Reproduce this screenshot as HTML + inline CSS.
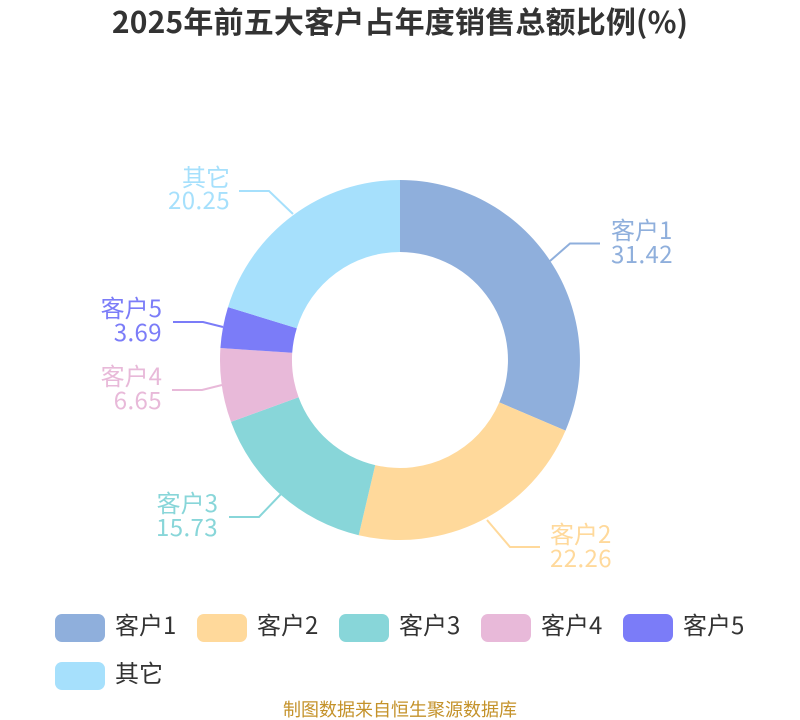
<!DOCTYPE html>
<html><head><meta charset="utf-8"><style>
html,body{margin:0;padding:0;background:#fff}
svg{display:block}
text{font-family:"Noto Sans CJK SC","Liberation Sans",sans-serif}
.n{letter-spacing:.4px}
</style></head><body>
<svg width="800" height="720" viewBox="0 0 800 720" xmlns="http://www.w3.org/2000/svg">
<rect width="800" height="720" fill="#fff"/>
<text x="400" y="33" text-anchor="middle" font-size="30" font-weight="700" fill="#333" style="letter-spacing:.18px">2025年前五大客户占年度销售总额比例(%)</text>
<g>
<path d="M400 180A180 180 0 0 1 565.5 430.65L499.3 402.4A108 108 0 0 0 400 252Z" fill="#8fafdc"/>
<path d="M565.5 430.65A180 180 0 0 1 358.7 535.2L375.2 465.1A108 108 0 0 0 499.3 402.4Z" fill="#ffd99b"/>
<path d="M358.7 535.2A180 180 0 0 1 231 421.9L298.6 397.2A108 108 0 0 0 375.2 465.1Z" fill="#88d6d9"/>
<path d="M231 421.9A180 180 0 0 1 220.4 348L292.2 352.8A108 108 0 0 0 298.6 397.2Z" fill="#e8b9d9"/>
<path d="M220.4 348A180 180 0 0 1 228 307.1L296.8 328.2A108 108 0 0 0 292.2 352.8Z" fill="#7b7cf8"/>
<path d="M228 307.1A180 180 0 0 1 400 180L400 252A108 108 0 0 0 296.8 328.2Z" fill="#a6e0fc"/>
</g>
<g fill="none" stroke-width="2">
<polyline points="550,261 570,243.5 600,243.5" stroke="#8fafdc"/>
<polyline points="487,520 510,547 540,547" stroke="#ffd99b"/>
<polyline points="281,494 259,517 229,517" stroke="#88d6d9"/>
<polyline points="222,385 202,390 172,390" stroke="#e8b9d9"/>
<polyline points="223,327 203,322 173,322" stroke="#7b7cf8"/>
<polyline points="293,214 269,191 239,191" stroke="#a6e0fc"/>
</g>
<g font-size="24">
<g fill="#8fafdc"><text x="611" y="239">客户1</text><text class="n" x="611" y="263">31.42</text></g>
<g fill="#ffd99b"><text x="550" y="543">客户2</text><text class="n" x="550" y="567">22.26</text></g>
<g fill="#88d6d9" text-anchor="end"><text x="218" y="512">客户3</text><text class="n" x="218" y="536">15.73</text></g>
<g fill="#e8b9d9" text-anchor="end"><text x="162" y="385">客户4</text><text class="n" x="162" y="409">6.65</text></g>
<g fill="#7b7cf8" text-anchor="end"><text x="162" y="317">客户5</text><text class="n" x="162" y="341">3.69</text></g>
<g fill="#a6e0fc" text-anchor="end"><text x="230" y="186">其它</text><text class="n" x="230" y="209">20.25</text></g>
</g>
<rect x="55" y="614" width="50" height="28" rx="7" fill="#8fafdc"/>
<rect x="197" y="614" width="50" height="28" rx="7" fill="#ffd99b"/>
<rect x="339" y="614" width="50" height="28" rx="7" fill="#88d6d9"/>
<rect x="481" y="614" width="50" height="28" rx="7" fill="#e8b9d9"/>
<rect x="623" y="614" width="50" height="28" rx="7" fill="#7b7cf8"/>
<rect x="55" y="662" width="50" height="28" rx="7" fill="#a6e0fc"/>
<g font-size="24" fill="#333">
<text x="115" y="634">客户1</text>
<text x="257" y="634">客户2</text>
<text x="399" y="634">客户3</text>
<text x="541" y="634">客户4</text>
<text x="683" y="634">客户5</text>
<text x="115" y="682">其它</text>
</g>
<text x="400" y="716" text-anchor="middle" font-size="18" fill="#c4922a">制图数据来自恒生聚源数据库</text>
</svg>
</body></html>
